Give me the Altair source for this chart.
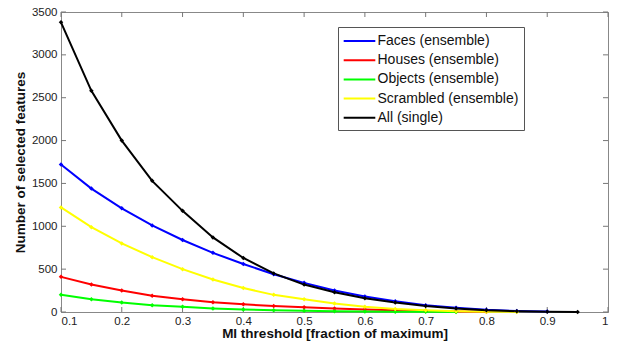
import altair as alt
import pandas as pd

thresholds = [0.10, 0.15, 0.20, 0.25, 0.30, 0.35, 0.40, 0.45, 0.50, 0.55,
              0.60, 0.65, 0.70, 0.75, 0.80, 0.85, 0.90, 0.95]

faces = [1720, 1440, 1210, 1010, 840, 690, 560, 440, 340, 250,
         180, 125, 80, 50, 25, 12, 5, None]
houses = [410, 320, 250, 190, 150, 115, 90, 70, 55, 42,
          30, 20, 12, 7, 3, None, None, None]
objects = [200, 150, 110, 80, 60, 42, 30, 20, 14, 10,
           6, 4, 2, 1, None, None, None, None]
scrambled = [1220, 990, 800, 640, 500, 380, 280, 200, 150, 100,
             62, 36, 20, 10, 4, 1, None, None]
all_single = [3380, 2580, 2000, 1530, 1180, 870, 630, 450, 320, 230,
              160, 110, 70, 42, 20, 10, 4, 1]

series_names = ["Faces (ensemble)", "Houses (ensemble)", "Objects (ensemble)",
                "Scrambled (ensemble)", "All (single)"]
series_values = [faces, houses, objects, scrambled, all_single]
series_colors = ["#0000ff", "#ff0000", "#00ff00", "#ffff00", "#000000"]

x_ticks = [0.1, 0.2, 0.3, 0.4, 0.5, 0.6, 0.7, 0.8, 0.9, 1.0]
y_ticks = [0, 500, 1000, 1500, 2000, 2500, 3000, 3500]

rows = []
for i, (name, vals) in enumerate(zip(series_names, series_values)):
    for t, v in zip(thresholds, vals):
        if v is not None:
            rows.append({"threshold": t, "count": v, "series": name, "order": i})
df = pd.DataFrame(rows)

W, H = 547, 300
TICK = 5

xscale = alt.Scale(domain=[0.1, 1], nice=False, zero=False)
yscale = alt.Scale(domain=[0, 3500], nice=False)

lines = alt.Chart(df).mark_line(
    strokeWidth=2,
    point=alt.OverlayMarkDef(filled=True, size=20, shape="diamond"),
).encode(
    x=alt.X("threshold:Q", scale=xscale,
            axis=alt.Axis(title="MI threshold [fraction of maximum]",
                          values=x_ticks, format="~g", grid=False, ticks=False,
                          labelPadding=3, titlePadding=0)),
    y=alt.Y("count:Q", scale=yscale,
            axis=alt.Axis(title="Number of selected features", format="d",
                          values=y_ticks, grid=False, ticks=False,
                          labelPadding=4, titlePadding=4)),
    color=alt.Color("series:N",
                    scale=alt.Scale(domain=series_names, range=series_colors),
                    legend=alt.Legend(title=None, orient="none",
                                      legendX=277, legendY=15,
                                      symbolType="M-2,0H2", symbolStrokeWidth=2,
                                      symbolSize=250, symbolOffset=7.5,
                                      labelFontSize=14, labelFont="Liberation Sans",
                                      labelColor="#111111", labelOffset=9,
                                      rowPadding=3.2,
                                      strokeColor="#555555", fillColor="white",
                                      padding=5)),
    order=alt.Order("order:Q"),
    detail="series:N",
)

xt = pd.DataFrame({"v": x_ticks})
yt = pd.DataFrame({"v": y_ticks})
tick_color = "#777777"

xt_bottom = alt.Chart(xt).mark_rule(color=tick_color).encode(
    x=alt.X("v:Q", scale=xscale), y=alt.value(H - TICK), y2=alt.value(H))
xt_top = alt.Chart(xt).mark_rule(color=tick_color).encode(
    x=alt.X("v:Q", scale=xscale), y=alt.value(0), y2=alt.value(TICK))
yt_left = alt.Chart(yt).mark_rule(color=tick_color).encode(
    y=alt.Y("v:Q", scale=yscale), x=alt.value(0), x2=alt.value(TICK))
yt_right = alt.Chart(yt).mark_rule(color=tick_color).encode(
    y=alt.Y("v:Q", scale=yscale), x=alt.value(W - TICK), x2=alt.value(W))

chart = alt.layer(xt_bottom, xt_top, yt_left, yt_right, lines).properties(
    width=W, height=H,
    autosize=alt.AutoSizeParams(type="none"),
    padding={"left": 61, "top": 12, "right": 11, "bottom": 38},
).configure_view(
    stroke="#888888", strokeWidth=1
).configure_axis(
    labelFont="Liberation Sans", labelFontSize=11.5, labelColor="#222222",
    titleFont="Liberation Sans", titleFontSize=13.5, titleFontWeight="bold",
    titleColor="#111111", domainColor="#888888",
)

chart.save("out.html", embed_options={"renderer": "svg", "actions": False})
